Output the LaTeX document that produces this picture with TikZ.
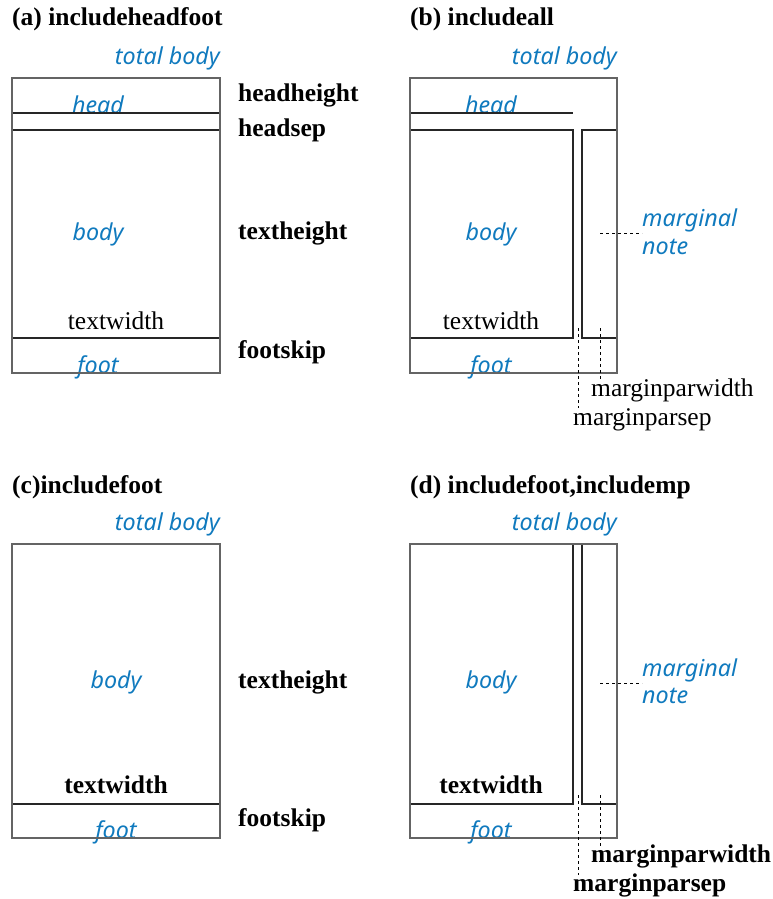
\documentclass[tikz,border=0pt]{standalone}
\usepackage{fontspec}
\setmainfont{Liberation Serif}
\newfontfamily\blsans{Noto Sans}
\definecolor{lblue}{RGB}{16,122,190}
\definecolor{boxgray}{RGB}{100,100,100}
\tikzset{
  outerbox/.style={draw=boxgray,line width=1.3pt},
  innerline/.style={draw=black!85,line width=1.2pt},
  dashline/.style={draw=black,dashed,line width=0.9pt,dash pattern=on 3pt off 3pt},
  blab/.style={inner sep=0pt,font=\blsans\itshape\fontsize{23.3}{27}\selectfont,text=lblue},
  slab/.style={inner sep=0pt,font=\fontsize{25.5}{30}\selectfont\bfseries},
  rlab/.style={inner sep=0pt,font=\fontsize{25.5}{30}\selectfont},
  ttl/.style={inner sep=0pt,anchor=base west,font=\fontsize{25.5}{30}\selectfont\bfseries},
}
\begin{document}
\begin{tikzpicture}[x=1pt,y=-1pt]
\useasboundingbox (0,0) rectangle (772,899);
% ---------- (a)
\node[ttl] (ta) at (12,26) {(a) includeheadfoot};
\node[blab,anchor=base east] (tba) at (220,64) {total body};
\node[blab,anchor=base] (heada) at (98,113) {head};
\node[blab,anchor=base] (bodya) at (98,240) {body};
\node[rlab,anchor=base] (twa) at (116,329) {textwidth};
\node[blab,anchor=base] (foota) at (98,373) {foot};
\draw[innerline] (12,113) -- (220,113);
\draw[innerline] (12,130) -- (220,130);
\draw[innerline] (12,338) -- (220,338);
\draw[outerbox] (12,78) rectangle (220,373);
\node[slab,anchor=base west] (hha) at (238,101) {headheight};
\node[slab,anchor=base west] (hsa) at (238,136) {headsep};
\node[slab,anchor=base west] (tha) at (238,239) {textheight};
\node[slab,anchor=base west] (fsa) at (238,358) {footskip};
% ---------- (b)
\node[ttl] (tb) at (410,26) {(b) includeall};
\node[blab,anchor=base east] (tbb) at (617,64) {total body};
\node[blab,anchor=base] (headb) at (491,113) {head};
\node[blab,anchor=base] (bodyb) at (491,240) {body};
\node[rlab,anchor=base] (twb) at (491,329) {textwidth};
\node[blab,anchor=base] (footb) at (491,373) {foot};
\draw[innerline] (410,113) -- (573,113);
\draw[innerline] (410,130) -- (573,130) -- (573,338) -- (410,338);
\draw[innerline] (617,130) -- (582,130) -- (582,338) -- (617,338);
\draw[outerbox] (410,78) rectangle (617,373);
\node[blab,anchor=base west,align=left] (mnb) at (642,226) {marginal};
\node[blab,anchor=base west] (mnb2) at (642,254) {note};
\coordinate (mnbs) at (600,233);
\draw[dashline] (mnbs) -- (mnb.west |- mnbs);
\node[rlab,anchor=base west] (mpwb) at (591,396) {marginparwidth};
\node[rlab,anchor=base west] (mpsb) at (573,425) {marginparsep};
\coordinate (mpwbt) at (600,328);
\coordinate (mpsbt) at (578.5,328);
\draw[dashline] (mpwbt) -- (600,381);
\draw[dashline] (mpsbt) -- (578.5,408);
% ---------- (c)
\node[ttl] (tc) at (12,493) {(c)includefoot};
\node[blab,anchor=base east] (tbc) at (220,530) {total body};
\node[blab,anchor=base] (bodyc) at (116,688) {body};
\node[slab,anchor=base] (twc) at (116,793) {textwidth};
\node[blab,anchor=base] (footc) at (116,838) {foot};
\draw[innerline] (12,804) -- (220,804);
\draw[outerbox] (12,544) rectangle (220,838);
\node[slab,anchor=base west] (thc) at (238,688) {textheight};
\node[slab,anchor=base west] (fsc) at (238,826) {footskip};
% ---------- (d)
\node[ttl] (td) at (410,493) {(d) includefoot,includemp};
\node[blab,anchor=base east] (tbd) at (617,530) {total body};
\node[blab,anchor=base] (bodyd) at (491,688) {body};
\node[slab,anchor=base] (twd) at (491,793) {textwidth};
\node[blab,anchor=base] (footd) at (491,838) {foot};
\draw[innerline] (573,544) -- (573,804) -- (410,804);
\draw[innerline] (582,544) -- (582,804) -- (617,804);
\draw[outerbox] (410,544) rectangle (617,838);
\node[blab,anchor=base west] (mnd) at (642,676) {marginal};
\node[blab,anchor=base west] (mnd2) at (642,703) {note};
\coordinate (mnds) at (600,683);
\draw[dashline] (mnds) -- (mnd.west |- mnds);
\node[slab,anchor=base west] (mpwd) at (591,862) {marginparwidth};
\node[slab,anchor=base west] (mpsd) at (573,891) {marginparsep};
\coordinate (mpwdt) at (600,795);
\coordinate (mpsdt) at (578.5,795);
\draw[dashline] (mpwdt) -- (600,848);
\draw[dashline] (mpsdt) -- (578.5,875);
\end{tikzpicture}
\end{document}
